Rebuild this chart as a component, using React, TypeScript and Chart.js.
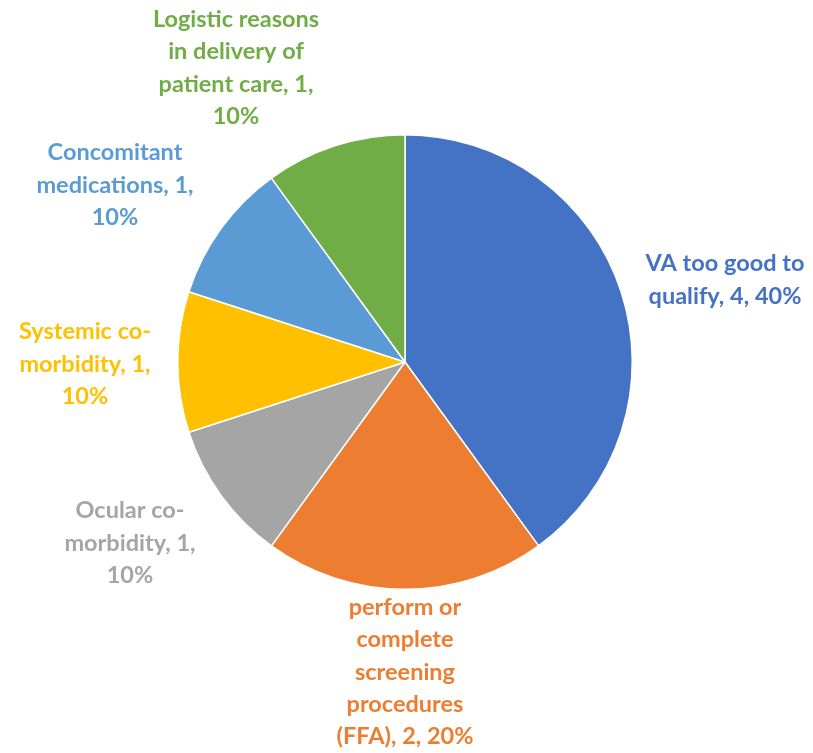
import React, { useEffect, useRef } from "react";
import { Chart, registerables } from "chart.js";

Chart.register(...registerables);

const categories: string[] = [
  "VA too good to qualify",
  "perform or complete screening procedures (FFA)",
  "Ocular co-morbidity",
  "Systemic co-morbidity",
  "Concomitant medications",
  "Logistic reasons in delivery of patient care",
];
const counts: number[] = [4, 2, 1, 1, 1, 1];
const percents: string[] = ["40%", "20%", "10%", "10%", "10%", "10%"];
const labelLines: string[][] = [
  ["VA too good to", "qualify, 4, 40%"],
  ["perform or", "complete", "screening", "procedures", "(FFA), 2, 20%"],
  ["Ocular co-", "morbidity, 1,", "10%"],
  ["Systemic co-", "morbidity, 1,", "10%"],
  ["Concomitant", "medications, 1,", "10%"],
  ["Logistic reasons", "in delivery of", "patient care, 1,", "10%"],
];
const colors: string[] = ["#4472C4", "#ED7D31", "#A5A5A5", "#FFC000", "#5B9BD5", "#70AD47"];
// label block centres relative to pie centre
const labelOffsets: [number, number][] = [
  [320, -82],
  [0, 310],
  [-275, 181],
  [-320, 2],
  [-290, -177],
  [-169, -294],
];

const labelPlugin = {
  id: "outerLabels",
  afterDraw(chart: any) {
    const ctx = chart.ctx;
    const meta = chart.getDatasetMeta(0);
    ctx.save();
    ctx.font = "bold 23.5px Lato, 'Noto Sans', sans-serif";
    ctx.textAlign = "center";
    ctx.textBaseline = "middle";
    const lh = 32.3;
    meta.data.forEach((arc: any, i: number) => {
      const cx = arc.x;
      const cy = arc.y;
      const lines = labelLines[i];
      const [ox, oy] = labelOffsets[i];
      const startY = cy + oy - ((lines.length - 1) * lh) / 2;
      ctx.fillStyle = colors[i];
      lines.forEach((t, j) => ctx.fillText(t, cx + ox, startY + j * lh));
    });
    ctx.restore();
  },
};

export default function App() {
  const ref = useRef<HTMLCanvasElement | null>(null);
  useEffect(() => {
    if (!ref.current) return;
    const chart = new Chart(ref.current, {
      type: "pie",
      data: {
        labels: categories,
        datasets: [
          {
            data: counts,
            backgroundColor: colors,
            borderColor: "#ffffff",
            borderWidth: 1.5,
          },
        ],
      },
      options: {
        responsive: false,
        animation: false,
        layout: { padding: { left: 177, right: 180, top: 134, bottom: 163 } },
        plugins: {
          legend: { display: false },
          tooltip: { enabled: false },
        },
      },
      plugins: [labelPlugin],
    });
    return () => chart.destroy();
  }, []);
  return (
    <div style={{ position: "fixed", left: 0, top: 0, width: 813, height: 753, background: "#fff" }}>
      <canvas ref={ref} width={813} height={753} style={{ width: 813, height: 753 }} />
    </div>
  );
}
